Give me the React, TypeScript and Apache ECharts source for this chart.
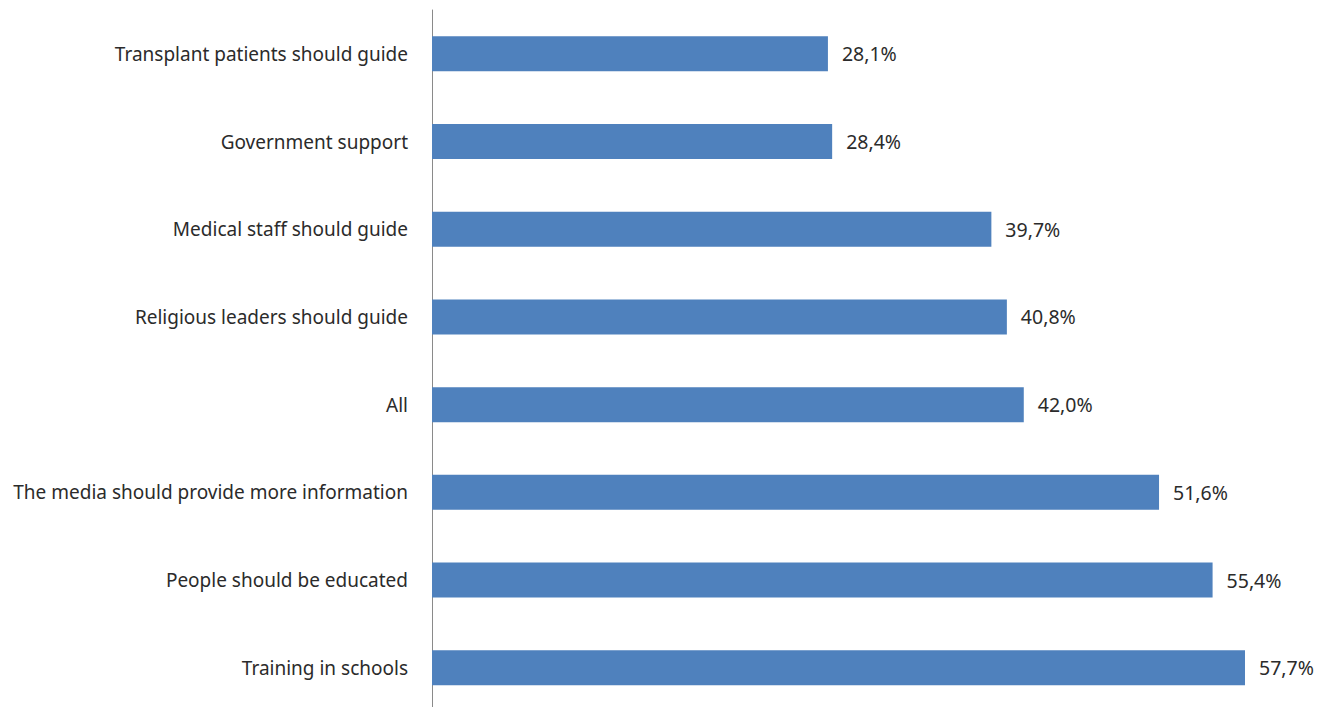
import React, { useEffect, useRef } from "react";
import * as echarts from "echarts";

const categories = [
  "Transplant patients should guide",
  "Government support",
  "Medical staff should guide",
  "Religious leaders should guide",
  "All",
  "The media should provide more information",
  "People should be educated",
  "Training in schools",
];
const values = [28.1, 28.4, 39.7, 40.8, 42.0, 51.6, 55.4, 57.7];

export default function App() {
  const ref = useRef<HTMLDivElement>(null);
  useEffect(() => {
    if (!ref.current) return;
    const chart = echarts.init(ref.current, null, { renderer: "svg" });
    chart.setOption({
      animation: false,
      backgroundColor: "#ffffff",
      grid: { left: 432, top: 10, width: 845.4, height: 701.6, containLabel: false },
      xAxis: {
        type: "value",
        min: 0,
        max: 60,
        show: false,
        splitLine: { show: false },
      },
      yAxis: {
        type: "category",
        data: categories,
        inverse: true,
        axisLine: { show: true, lineStyle: { color: "#8a8a8a", width: 1 } },
        axisTick: { show: false },
        axisLabel: {
          margin: 24,
          fontFamily: "'Noto Sans', 'Open Sans', sans-serif",
          fontSize: 19,
          color: "#2b2b2b",
        },
      },
      series: [
        {
          type: "bar",
          data: values,
          barWidth: 35,
          itemStyle: { color: "#4f81bd" },
          label: {
            show: true,
            position: "right",
            distance: 14,
            fontFamily: "'Noto Sans', 'Open Sans', sans-serif",
            fontSize: 19.5,
            color: "#2b2b2b",
            formatter: (p: any) => p.value.toFixed(1).replace(".", ",") + "%",
          },
        },
      ],
    });
    return () => chart.dispose();
  }, []);
  return (
    <div
      style={{ position: "fixed", left: 0, top: 0, width: 1328, height: 707, overflow: "hidden", background: "#fff" }}
    >
      <div ref={ref} style={{ width: 1328, height: 712 }} />
    </div>
  );
}
